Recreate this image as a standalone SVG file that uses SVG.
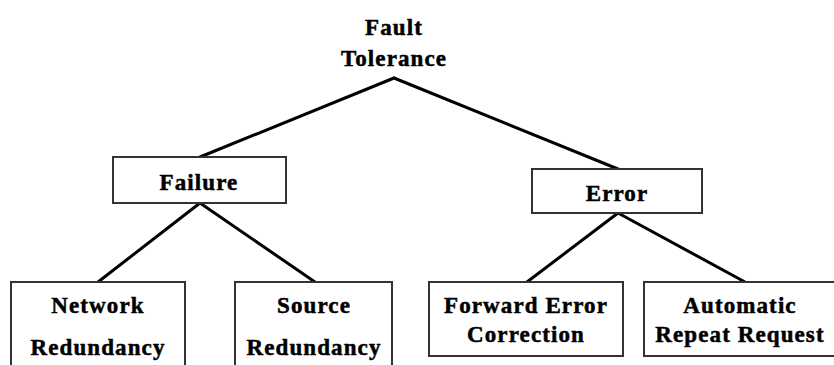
<svg xmlns="http://www.w3.org/2000/svg" width="834" height="365" viewBox="0 0 834 365">
  <style>
    .box { fill: #ffffff; stroke: #333333; stroke-width: 2; }
    .lbl { font-family: "Liberation Serif", "Times New Roman", serif; font-weight: bold; font-size: 23px; letter-spacing: 1.1px; fill: #000000; stroke: #000000; stroke-width: 0.5; text-anchor: middle; }
    .edge { stroke: #000000; stroke-width: 3; fill: none; stroke-linecap: round; }
  </style>
  <rect x="0" y="0" width="834" height="365" fill="#ffffff"/>

  <!-- tree branches -->
  <g id="connectors">
    <line class="edge" x1="394" y1="78" x2="200" y2="157"/>
    <line class="edge" x1="394" y1="78" x2="618" y2="169"/>
    <line class="edge" x1="200" y1="203" x2="98" y2="282"/>
    <line class="edge" x1="200" y1="203" x2="315" y2="282"/>
    <line class="edge" x1="618" y1="213" x2="527" y2="282"/>
    <line class="edge" x1="618" y1="213" x2="745" y2="282"/>
  </g>

  <g id="fault-tolerance">
    <text class="lbl" x="394" y="35">Fault</text>
    <text class="lbl" x="394" y="66">Tolerance</text>
  </g>

  <g id="failure">
    <rect class="box" x="113" y="157" width="173" height="46"/>
    <text class="lbl" x="199" y="190">Failure</text>
  </g>

  <g id="error">
    <rect class="box" x="532" y="169" width="170" height="44"/>
    <text class="lbl" x="617" y="201">Error</text>
  </g>

  <g id="network-redundancy">
    <rect class="box" x="11" y="282" width="174" height="100"/>
    <text class="lbl" x="98" y="313">Network</text>
    <text class="lbl" x="98" y="355">Redundancy</text>
  </g>

  <g id="source-redundancy">
    <rect class="box" x="235" y="282" width="157" height="100"/>
    <text class="lbl" x="314" y="313">Source</text>
    <text class="lbl" x="314" y="355">Redundancy</text>
  </g>

  <g id="forward-error-correction">
    <rect class="box" x="429" y="282" width="194" height="74"/>
    <text class="lbl" x="526" y="313">Forward Error</text>
    <text class="lbl" x="526" y="342">Correction</text>
  </g>

  <g id="automatic-repeat-request">
    <rect class="box" x="644" y="282" width="193" height="74"/>
    <text class="lbl" x="740" y="313">Automatic</text>
    <text class="lbl" x="740" y="342">Repeat Request</text>
  </g>
</svg>
